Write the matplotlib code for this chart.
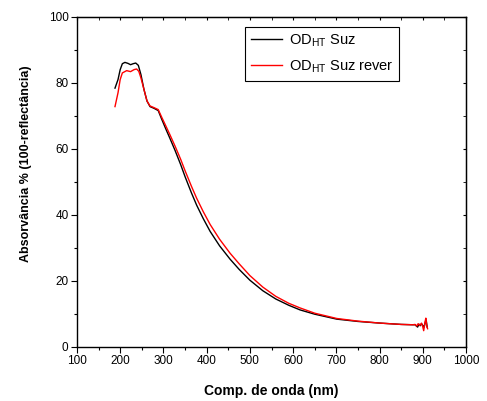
import numpy as np
import matplotlib
matplotlib.use("Agg")
import matplotlib.pyplot as plt
from matplotlib.ticker import MultipleLocator

plt.rcParams['font.family'] = ['Liberation Sans', 'DejaVu Sans']
plt.rcParams['mathtext.fontset'] = 'custom'
plt.rcParams['mathtext.rm'] = 'Liberation Sans'

# dados
nm_suz = [188, 195, 200, 205, 211, 218, 224, 230, 236, 242, 248, 255, 262, 269,
          278, 288, 296, 305, 315, 327, 340, 350, 365, 377, 392, 408, 430, 454,
          475, 500, 530, 560, 590, 616, 650, 701, 750, 801, 850, 877, 882, 886,
          888, 891, 894, 897, 900, 903, 906, 908, 910]
abs_suz = [78.4, 81.0, 84.0, 85.8, 86.2, 85.9, 85.5, 85.8, 86.0, 85.3, 82.5, 78.0,
           74.5, 72.8, 72.3, 71.6, 69.0, 66.2, 63.2, 59.5, 55.2, 51.6, 46.6, 42.9,
           38.9, 35.0, 30.6, 26.6, 23.5, 20.2, 17.0, 14.5, 12.6, 11.2, 9.9, 8.4,
           7.7, 7.2, 6.8, 6.7, 6.7, 6.2, 6.0, 6.9, 6.4, 7.0, 6.5, 6.0, 7.6, 7.9, 6.0]

nm_rever = [188, 195, 200, 205, 215, 224, 232, 238, 243, 248, 255, 262, 269, 278,
            288, 296, 305, 315, 327, 340, 350, 365, 377, 392, 408, 430, 454, 475,
            500, 530, 560, 590, 616, 650, 701, 750, 801, 850, 877, 882, 886, 889,
            893, 897, 900, 902, 905, 907, 909, 911]
abs_rever = [72.8, 77.0, 81.0, 83.0, 83.7, 83.4, 84.0, 84.2, 83.5, 81.5, 78.0, 74.5,
             73.0, 72.5, 71.9, 69.6, 67.1, 64.3, 60.8, 56.8, 53.4, 48.6, 45.0, 41.0,
             37.1, 32.6, 28.4, 25.2, 21.6, 18.1, 15.3, 13.2, 11.8, 10.2, 8.6, 7.8,
             7.2, 6.8, 6.7, 6.8, 6.3, 7.0, 6.5, 7.2, 6.0, 4.9, 7.5, 8.7, 6.5, 5.5]

fig = plt.figure(figsize=(4.87, 4.01), dpi=100)
ax = fig.add_axes([0.158, 0.135, 0.799, 0.823])

ax.plot(nm_suz, abs_suz, color='black', lw=1.0, label=r'OD$_{\mathrm{HT}}$ Suz')
ax.plot(nm_rever, abs_rever, color='red', lw=1.0, label=r'OD$_{\mathrm{HT}}$ Suz rever')

ax.set_xlim(100, 1000)
ax.set_ylim(0, 100)
ax.xaxis.set_major_locator(MultipleLocator(100))
ax.xaxis.set_minor_locator(MultipleLocator(50))
ax.yaxis.set_major_locator(MultipleLocator(20))
ax.yaxis.set_minor_locator(MultipleLocator(10))
ax.tick_params(which='major', direction='out', length=4, width=0.8, labelsize=8.5, pad=2)
ax.tick_params(which='minor', direction='out', length=2.5, width=0.8)

# ticks para dentro em cima e a direita
top = ax.secondary_xaxis('top')
top.xaxis.set_major_locator(MultipleLocator(100))
top.xaxis.set_minor_locator(MultipleLocator(50))
top.tick_params(which='both', direction='in', length=2.5, labeltop=False)
right = ax.secondary_yaxis('right')
right.yaxis.set_major_locator(MultipleLocator(20))
right.yaxis.set_minor_locator(MultipleLocator(10))
right.tick_params(which='both', direction='in', length=2.5, labelright=False)

for s in ax.spines.values():
    s.set_linewidth(1.0)

ax.set_xlabel('Comp. de onda (nm)', fontsize=10, fontweight='bold')
ax.xaxis.set_label_coords(0.5, -0.112)
ax.set_ylabel('Absorvância % (100-reflectância)', fontsize=9, fontweight='bold')
ax.yaxis.set_label_coords(-0.115, 0.555)

leg = ax.legend(loc='upper left', bbox_to_anchor=(0.432, 0.97), borderaxespad=0,
                fontsize=10.5, fancybox=False, edgecolor='black', framealpha=1,
                handlelength=2.1, handletextpad=0.5, labelspacing=0.6)
leg.get_frame().set_linewidth(0.8)

fig.savefig('out.png', dpi=100)
